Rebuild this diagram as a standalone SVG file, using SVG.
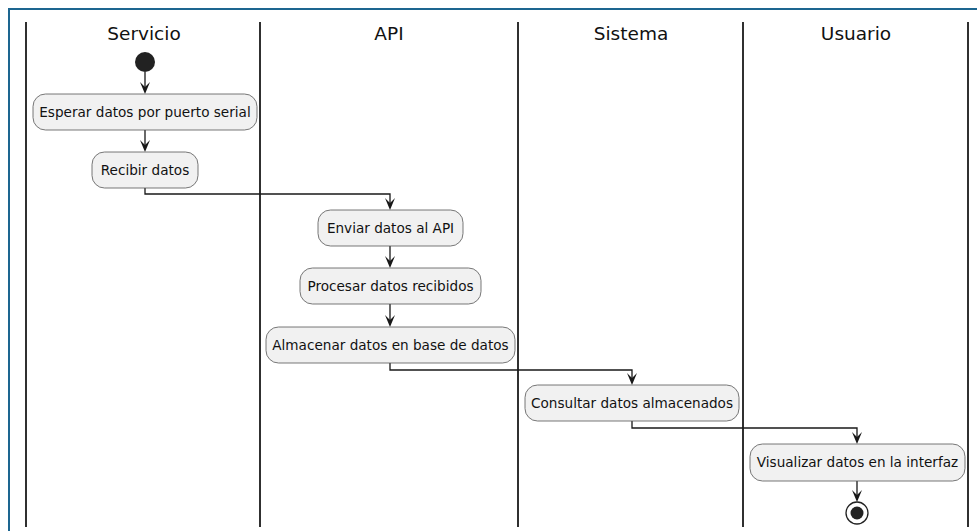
<svg xmlns="http://www.w3.org/2000/svg" width="977" height="531" viewBox="0 0 977 531">
  <style>
    .frame { fill: none; stroke: #1d6690; stroke-width: 2; }
    .lane { stroke: #303030; stroke-width: 2; }
    .title { font-family: "DejaVu Sans", sans-serif; font-size: 18.5px; fill: #111; text-anchor: middle; }
    .act rect { fill: #F1F1F1; stroke: #555555; stroke-width: 0.8; }
    .act text { font-family: "DejaVu Sans", sans-serif; font-size: 13.6px; fill: #111; text-anchor: middle; }
    .edge { fill: none; stroke: #181818; stroke-width: 1.3; }
    .head { fill: #181818; }
  </style>
  <defs>
    <path id="arrow" class="head" d="M -5 -12 L 0 0 L 5 -12 L 0 -7 Z"/>
  </defs>

  <rect width="977" height="531" fill="#ffffff"/>
  <path class="frame" d="M 9 531 L 9 9 L 977 9"/>

  <!-- swimlane separators and titles -->
  <g id="lanes">
    <line class="lane" x1="26" y1="22" x2="26" y2="527"/>
    <line class="lane" x1="260" y1="22" x2="260" y2="527"/>
    <line class="lane" x1="518" y1="22" x2="518" y2="527"/>
    <line class="lane" x1="743" y1="22" x2="743" y2="527"/>
    <line class="lane" x1="968" y1="22" x2="968" y2="527"/>
    <text class="title" x="144" y="40">Servicio</text>
    <text class="title" x="389" y="40">API</text>
    <text class="title" x="631" y="40">Sistema</text>
    <text class="title" x="856" y="40">Usuario</text>
  </g>

  <!-- connectors -->
  <g id="connectors">
    <path class="edge" d="M 145 72 L 145 90"/>
    <use href="#arrow" x="145" y="94"/>
    <path class="edge" d="M 145 130 L 145 148"/>
    <use href="#arrow" x="145" y="152"/>
    <path class="edge" d="M 145 188 L 145 194 L 390 194 L 390 206"/>
    <use href="#arrow" x="390" y="210"/>
    <path class="edge" d="M 390 246 L 390 264"/>
    <use href="#arrow" x="390" y="268"/>
    <path class="edge" d="M 390 304 L 390 323"/>
    <use href="#arrow" x="390" y="327"/>
    <path class="edge" d="M 390 363 L 390 370 L 632 370 L 632 381"/>
    <use href="#arrow" x="632" y="385"/>
    <path class="edge" d="M 632 421 L 632 428 L 857 428 L 857 440"/>
    <use href="#arrow" x="857" y="444"/>
    <path class="edge" d="M 857 481 L 857 498"/>
    <use href="#arrow" x="857" y="502"/>
  </g>

  <g id="start">
    <circle cx="145" cy="62" r="10" fill="#222222"/>
  </g>

  <g id="esperar" class="act">
    <rect x="33" y="94" width="224" height="36" rx="12.5"/>
    <text x="145" y="117">Esperar datos por puerto serial</text>
  </g>
  <g id="recibir" class="act">
    <rect x="92" y="152" width="106" height="36" rx="12.5"/>
    <text x="145" y="175">Recibir datos</text>
  </g>
  <g id="enviar" class="act">
    <rect x="318" y="210" width="145" height="36" rx="12.5"/>
    <text x="390.5" y="233">Enviar datos al API</text>
  </g>
  <g id="procesar" class="act">
    <rect x="300" y="268" width="181" height="36" rx="12.5"/>
    <text x="390.5" y="291">Procesar datos recibidos</text>
  </g>
  <g id="almacenar" class="act">
    <rect x="266" y="327" width="249" height="36" rx="12.5"/>
    <text x="390.5" y="350">Almacenar datos en base de datos</text>
  </g>
  <g id="consultar" class="act">
    <rect x="525" y="385" width="214" height="36" rx="12.5"/>
    <text x="632" y="408">Consultar datos almacenados</text>
  </g>
  <g id="visualizar" class="act">
    <rect x="750" y="444" width="215" height="37" rx="12.5"/>
    <text x="857.5" y="467">Visualizar datos en la interfaz</text>
  </g>

  <g id="end">
    <circle cx="857" cy="513" r="11" fill="#ffffff" stroke="#222222" stroke-width="1.3"/>
    <circle cx="857" cy="513" r="6.5" fill="#222222"/>
  </g>
</svg>
